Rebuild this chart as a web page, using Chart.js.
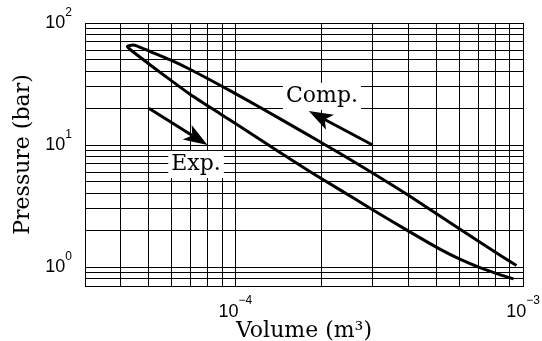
<!DOCTYPE html>
<html>
<head>
<meta charset="utf-8">
<script src="https://cdn.jsdelivr.net/npm/chart.js@4.4.1/dist/chart.umd.min.js"></script>
<style>
  body { margin: 0; background: #fff; }
  canvas { display: block; }
</style>
</head>
<body>
<canvas id="pvChart" width="542" height="341"></canvas>
<script>
// compression branch (upper), from the right end up to the tip
const compVolume = [9.49e-4, 8.35e-4, 6.06e-4, 3.96e-4, 2.95e-4, 2.32e-4, 1.68e-4, 1.22e-4, 9.61e-5, 6.97e-5, 5.94e-5, 5.06e-5, 4.67e-5, 4.42e-5];
const compPressure = [1.03, 1.246, 2.03, 3.93, 6.05, 8.49, 13.2, 20.3, 27.8, 41.6, 49.8, 58.4, 63.2, 66.0];
// expansion branch (lower), from the tip back down
const expVolume = [4.21e-5, 4.35e-5, 5.06e-5, 5.94e-5, 6.97e-5, 8.87e-5, 1.128e-4, 1.434e-4, 1.82e-4, 2.32e-4, 2.95e-4, 3.96e-4, 5.16e-4, 6.06e-4, 7.12e-4, 8.35e-4, 9.27e-4];
const expPressure = [64.2, 59.5, 45.3, 34.2, 26.0, 18.0, 12.5, 8.65, 6.05, 4.27, 3.02, 2.0, 1.396, 1.156, 0.985, 0.864, 0.80];

// grid lines and decade labels
const xGrid = [3e-5, 4e-5, 5e-5, 6e-5, 7e-5, 8e-5, 9e-5, 1e-4, 2e-4, 3e-4, 4e-4, 5e-4, 6e-4, 7e-4, 8e-4, 9e-4, 1e-3];
const yGrid = [0.7, 0.8, 0.9, 1, 2, 3, 4, 5, 6, 7, 8, 9, 10, 20, 30, 40, 50, 60, 70, 80, 90, 100];
const xDecades = [-4, -3];
const yDecades = [0, 1, 2];

// annotations (data units)
const noteText = ['Exp.', 'Comp.'];
const noteVolume = [7.3e-5, 2.0e-4];
const notePressure = [7.0, 25.3];
const arrowFromVolume = [5e-5, 3e-4];
const arrowFromPressure = [20, 10];
const arrowToVolume = [8e-5, 1.8e-4];
const arrowToPressure = [10, 19];

const loop = compVolume.map((v, i) => ({ x: v, y: compPressure[i] }))
  .concat(expVolume.map((v, i) => ({ x: v, y: expPressure[i] })));

function drawArrow(ctx, x0, y0, x1, y1) {
  const ang = Math.atan2(y1 - y0, x1 - x0);
  const cos = Math.cos(ang), sin = Math.sin(ang);
  const len = 24, half = 8.5, notch = 6;
  const bx = x1 - len * cos, by = y1 - len * sin;
  const nx = x1 - (len - notch) * cos, ny = y1 - (len - notch) * sin;
  ctx.beginPath();
  ctx.moveTo(x0, y0);
  ctx.lineTo(nx, ny);
  ctx.stroke();
  ctx.beginPath();
  ctx.moveTo(x1, y1);
  ctx.lineTo(bx - half * sin, by + half * cos);
  ctx.lineTo(nx, ny);
  ctx.lineTo(bx + half * sin, by - half * cos);
  ctx.closePath();
  ctx.fill();
}

function powerLabel(ctx, e) {
  ctx.font = '18px "Liberation Sans"';
  const w1 = ctx.measureText('10').width;
  ctx.font = '12px "Liberation Sans"';
  const exp = e < 0 ? '\u2212' + (-e) : String(e);
  const w2 = ctx.measureText(exp).width;
  return { exp, w1, w2 };
}

const decorations = {
  id: 'decorations',
  beforeDatasetsDraw(chart) {
    const { ctx, scales: { x, y } } = chart;
    ctx.save();
    ctx.font = '22px "DejaVu Serif"';
    ctx.textAlign = 'center';
    ctx.textBaseline = 'middle';
    noteText.forEach((t, i) => {
      const px = x.getPixelForValue(noteVolume[i]);
      const py = y.getPixelForValue(notePressure[i]);
      const w = ctx.measureText(t).width + 6;
      ctx.fillStyle = '#fff';
      ctx.fillRect(px - w / 2, py - 13, w, 27);
      ctx.fillStyle = '#000';
      ctx.fillText(t, px, py);
    });
    ctx.restore();
  },
  afterDatasetsDraw(chart) {
    const { ctx, scales: { x, y } } = chart;
    ctx.save();
    ctx.strokeStyle = '#000';
    ctx.fillStyle = '#000';
    ctx.lineWidth = 3;
    arrowFromVolume.forEach((v, i) => {
      drawArrow(ctx,
        x.getPixelForValue(v), y.getPixelForValue(arrowFromPressure[i]),
        x.getPixelForValue(arrowToVolume[i]), y.getPixelForValue(arrowToPressure[i]));
    });
    ctx.restore();
  },
  afterDraw(chart) {
    const { ctx, chartArea, scales: { x, y } } = chart;
    ctx.save();
    ctx.fillStyle = '#000';
    ctx.textAlign = 'left';
    ctx.textBaseline = 'alphabetic';
    xDecades.forEach(e => {
      const px = x.getPixelForValue(Math.pow(10, e));
      const l = powerLabel(ctx, e);
      const left = px - (l.w1 + l.w2) / 2;
      const base = chartArea.bottom + 31;
      ctx.font = '18px "Liberation Sans"';
      ctx.fillText('10', left, base);
      ctx.font = '12px "Liberation Sans"';
      ctx.fillText(l.exp, left + l.w1, base - 13);
    });
    yDecades.forEach(e => {
      const py = y.getPixelForValue(Math.pow(10, e));
      const l = powerLabel(ctx, e);
      const left = chartArea.left - 13 - l.w1 - l.w2;
      const base = py + 5;
      ctx.font = '18px "Liberation Sans"';
      ctx.fillText('10', left, base);
      ctx.font = '12px "Liberation Sans"';
      ctx.fillText(l.exp, left + l.w1, base - 12);
    });
    ctx.restore();
  }
};

const ctx = document.getElementById('pvChart').getContext('2d');
new Chart(ctx, {
  type: 'scatter',
  data: {
    datasets: [{
      data: loop,
      showLine: true,
      borderColor: '#000',
      borderWidth: 3,
      pointRadius: 0,
      tension: 0.2,
      fill: false
    }]
  },
  options: {
    responsive: false,
    animation: false,
    devicePixelRatio: 1,
    events: [],
    layout: { padding: { top: 23, right: 19, left: 0, bottom: 0 } },
    plugins: { legend: { display: false }, tooltip: { enabled: false } },
    scales: {
      x: {
        type: 'logarithmic',
        min: 3e-5,
        max: 1e-3,
        afterBuildTicks: s => { s.ticks = xGrid.map(v => ({ value: v })); },
        afterFit: s => { s.height = 55; },
        ticks: { display: false },
        grid: { color: '#000', lineWidth: 1, drawTicks: false },
        border: { display: true, color: '#000', width: 1 },
        title: {
          display: true,
          text: 'Volume (m\u00b3)',
          color: '#000',
          font: { family: 'DejaVu Serif', size: 22 },
          padding: { top: 0, bottom: -3 }
        }
      },
      y: {
        type: 'logarithmic',
        min: 0.7,
        max: 100,
        afterBuildTicks: s => { s.ticks = yGrid.map(v => ({ value: v })); },
        afterFit: s => { s.width = 85; },
        ticks: { display: false },
        grid: { color: '#000', lineWidth: 1, drawTicks: false },
        border: { display: true, color: '#000', width: 1 },
        title: {
          display: true,
          text: 'Pressure (bar)',
          color: '#000',
          font: { family: 'DejaVu Serif', size: 22 },
          padding: { top: 10, bottom: 0 }
        }
      }
    }
  },
  plugins: [decorations]
});
</script>
</body>
</html>
